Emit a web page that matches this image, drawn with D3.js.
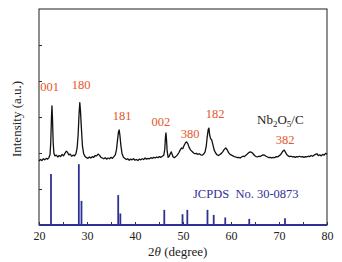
<!DOCTYPE html>
<html><head><meta charset="utf-8">
<script src="https://cdn.jsdelivr.net/npm/d3@7"></script>
<style>
html,body{margin:0;padding:0;background:#fff;}
text{font-family:"Liberation Serif","Times New Roman",serif;}
</style></head>
<body>
<svg id="c" width="342" height="262"></svg>
<script>
// XRD pattern of Nb2O5/C : [2theta (deg), intensity (a.u.)]
const pattern = [
[20.0,178],[20.3,182],[20.6,179],[20.9,184],[21.2,181],[21.5,185],[21.8,183],[22.1,188],[22.3,196],[22.45,230],[22.6,300],[22.7,331],[22.8,300],[22.95,230],[23.1,200],[23.3,192],[23.6,194],[23.9,189],[24.2,193],[24.5,190],[24.8,196],[25.1,192],[25.4,199],[25.7,205],[25.9,203],[26.2,195],[26.5,197],[26.8,191],[27.1,194],[27.4,192],[27.7,198],[27.95,215],[28.15,250],[28.35,310],[28.5,340],[28.65,315],[28.85,265],[29.05,220],[29.3,198],[29.6,190],[29.9,187],[30.2,185],[30.5,189],[30.8,186],[31.1,190],[31.4,188],[31.7,193],[32.0,192],[32.3,197],[32.6,194],[32.9,188],[33.2,186],[33.5,184],[33.8,187],[34.1,183],[34.4,186],[34.7,184],[35.0,188],[35.3,185],[35.6,190],[35.9,195],[36.15,210],[36.35,235],[36.55,258],[36.7,264],[36.85,250],[37.05,222],[37.3,198],[37.6,188],[37.9,185],[38.2,182],[38.5,184],[38.8,180],[39.1,183],[39.4,181],[39.7,184],[40.0,180],[40.3,182],[40.6,179],[40.9,183],[41.2,181],[41.5,184],[41.8,182],[42.1,186],[42.4,183],[42.7,185],[43.0,184],[43.3,187],[43.6,185],[43.9,188],[44.2,186],[44.5,189],[44.8,187],[45.1,190],[45.4,188],[45.7,191],[46.0,194],[46.2,210],[46.35,245],[46.45,256],[46.55,240],[46.7,205],[46.9,188],[47.1,190],[47.35,198],[47.55,203],[47.75,196],[47.95,189],[48.2,187],[48.5,190],[48.8,194],[49.1,200],[49.4,208],[49.7,214],[49.95,212],[50.2,220],[50.5,228],[50.75,231],[51.0,226],[51.3,215],[51.6,208],[51.9,204],[52.2,200],[52.5,198],[52.8,199],[53.1,196],[53.4,198],[53.7,195],[54.0,194],[54.3,197],[54.6,203],[54.85,220],[55.05,245],[55.25,265],[55.4,269],[55.55,250],[55.75,240],[56.0,236],[56.25,222],[56.5,208],[56.8,200],[57.1,195],[57.4,193],[57.7,196],[58.0,199],[58.3,204],[58.6,210],[58.9,214],[59.2,209],[59.5,201],[59.8,196],[60.1,194],[60.4,192],[60.7,190],[61.0,189],[61.3,187],[61.6,188],[61.9,186],[62.2,189],[62.5,191],[62.8,190],[63.1,194],[63.4,197],[63.7,201],[64.0,203],[64.3,202],[64.6,198],[64.9,193],[65.2,190],[65.5,189],[65.8,191],[66.1,190],[66.4,193],[66.7,195],[67.0,194],[67.3,191],[67.6,189],[67.9,187],[68.2,188],[68.5,186],[68.8,188],[69.1,187],[69.4,190],[69.7,189],[70.0,192],[70.3,195],[70.6,201],[70.85,206],[71.1,208],[71.35,202],[71.6,196],[71.9,192],[72.2,190],[72.5,191],[72.8,189],[73.1,190],[73.4,188],[73.7,190],[74.0,189],[74.3,191],[74.6,189],[74.9,190],[75.2,188],[75.5,190],[75.8,189],[76.1,191],[76.4,190],[76.7,193],[77.0,191],[77.3,194],[77.6,196],[77.9,198],[78.2,193],[78.5,195],[78.8,192],[79.1,196],[79.4,194],[79.7,199],[80.0,197]
];

// JCPDS No. 30-0873 reference lines
const refTheta  = [22.5, 28.3, 28.85, 36.5, 36.95, 46.1, 49.9, 50.9, 55.1, 56.4, 58.8, 63.8, 71.25];
const refHeight = [142, 169, 67, 83, 32, 42, 30, 42, 42, 28, 21, 17, 19];

// peak (hkl) labels
const peakLabels = ["001", "180", "181", "002", "380", "182", "382"];
const peakTheta  = [22.2, 28.75, 37.3, 45.4, 51.5, 56.7, 71.25];
const peakLevel  = [372, 378, 292, 275, 242, 298, 225];

const xTicks = [20, 30, 40, 50, 60, 70, 80];
const xMinorTicks = [25, 35, 45, 55, 65, 75];
const yTicks = [100, 200, 300, 400, 500];

const svg = d3.select("#c");
const L = 39, R = 327, T = 9, B = 225;
const x = d3.scaleLinear().domain([20, 80]).range([L, R]);
const y = d3.scaleLinear().domain([0, 600]).range([B, T]);

const red = "#e4572e", navy = "#2e3192", frame = "#333";

// frame
svg.append("rect").attr("x", L).attr("y", T).attr("width", R - L).attr("height", B - T)
  .attr("fill", "none").attr("stroke", frame).attr("stroke-width", 1.1);

// y axis (inward ticks, no labels)
const yAxis = d3.axisLeft(y).tickValues(yTicks).tickSize(-3).tickFormat("");
const ga = svg.append("g").attr("transform", `translate(${L},0)`).call(yAxis);
ga.select(".domain").remove();
ga.selectAll("line").attr("stroke", frame);

// x axis
const xAxis = d3.axisBottom(x).tickValues(xTicks).tickSize(-3).tickPadding(6);
const gx = svg.append("g").attr("transform", `translate(0,${B})`).call(xAxis);
gx.select(".domain").remove();
gx.selectAll("line").attr("stroke", frame);
gx.selectAll("text").attr("font-size", 12).attr("font-family", "Liberation Serif").attr("fill", "#222").attr("dy", "0.71em");
const xMinor = d3.axisBottom(x).tickValues(xMinorTicks).tickSize(-3).tickFormat("");
const gm = svg.append("g").attr("transform", `translate(0,${B})`).call(xMinor);
gm.select(".domain").remove();
gm.selectAll("line").attr("stroke", frame);

// reference bars
svg.append("g").selectAll("line").data(refTheta).join("line")
  .attr("x1", d => x(d)).attr("x2", d => x(d))
  .attr("y1", y(0)).attr("y2", (d, i) => y(refHeight[i]))
  .attr("stroke", navy).attr("stroke-width", 1.8);
svg.append("line").attr("x1", L).attr("x2", R).attr("y1", B).attr("y2", B)
  .attr("stroke", navy).attr("stroke-width", 1.8);

// pattern
const line = d3.line().x(d => x(d[0])).y(d => y(d[1]));
svg.append("path").datum(pattern).attr("d", line)
  .attr("fill", "none").attr("stroke", "#111").attr("stroke-width", 1.3).attr("stroke-linejoin", "round");

// peak labels
svg.append("g").selectAll("text").data(peakLabels).join("text")
  .attr("x", (d, i) => x(peakTheta[i])).attr("y", (d, i) => y(peakLevel[i]))
  .attr("text-anchor", "middle").attr("font-size", 12.5).attr("fill", red).text(d => d);

// sample label
const nb = svg.append("text").attr("x", 257).attr("y", 124).attr("font-size", 13).attr("fill", "#222");
nb.append("tspan").text("Nb");
nb.append("tspan").attr("font-size", 9).attr("dy", 3).text("2");
nb.append("tspan").attr("dy", -3).text("O");
nb.append("tspan").attr("font-size", 9).attr("dy", 3).text("5");
nb.append("tspan").attr("dy", -3).text("/C");

// JCPDS label
svg.append("text").attr("x", 193).attr("y", 198).attr("font-size", 12.5).attr("fill", navy)
  .attr("xml:space", "preserve").style("white-space", "pre").text("JCPDS  No. 30-0873");

// axis titles
const xt = svg.append("text").attr("x", 148).attr("y", 256).attr("font-size", 13).attr("fill", "#222");
xt.append("tspan").text("2");
xt.append("tspan").attr("font-style", "italic").text("θ");
xt.append("tspan").text(" (degree)");

svg.append("text").attr("transform", "translate(21,119) rotate(-90)")
  .attr("text-anchor", "middle").attr("font-size", 13).attr("fill", "#222").text("Intensity (a.u.)");
</script>
</body></html>
